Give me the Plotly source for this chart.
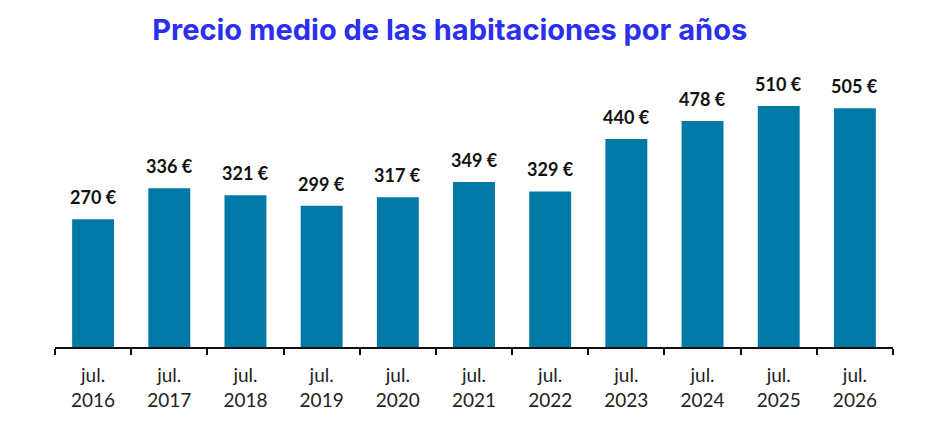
import plotly.graph_objects as go

years = ["2016", "2017", "2018", "2019", "2020", "2021", "2022", "2023", "2024", "2025", "2026"]
categories = [f"jul.<br>{y}" for y in years]
prices = [270, 336, 321, 299, 317, 349, 329, 440, 478, 510, 505]
labels = [f"<b>{v} €</b>" for v in prices]

fig = go.Figure(go.Bar(
    x=categories, y=prices,
    marker=dict(color="#0079a6", line=dict(width=0)),
    width=0.55,
    hoverinfo="skip",
))

for c, v, t in zip(categories, prices, labels):
    fig.add_annotation(x=c, y=v, text=t, showarrow=False, yanchor="bottom",
                       yshift=9, font=dict(family="Lato", size=18, color="#111111"))

fig.update_layout(
    width=930, height=436,
    margin=dict(l=47, r=45, t=62, b=97),
    paper_bgcolor="white", plot_bgcolor="white",
    title=dict(text="<b>Precio medio de las habitaciones por años</b>",
               x=0.475, xanchor="center", y=0.95, yanchor="middle",
               font=dict(family="Inter", size=29, color="#2b2fef")),
    showlegend=False,
)
fig.update_xaxes(showline=True, linecolor="#111111", linewidth=2,
                 ticks="outside", tickson="boundaries", ticklen=6, tickwidth=2, tickcolor="#111111",
                 ticklabelstandoff=10,
                 tickfont=dict(family="Lato", size=19, color="#222222"), showgrid=False)
fig.update_yaxes(range=[0, 586], visible=False, showgrid=False)

fig.write_html("out.html")
